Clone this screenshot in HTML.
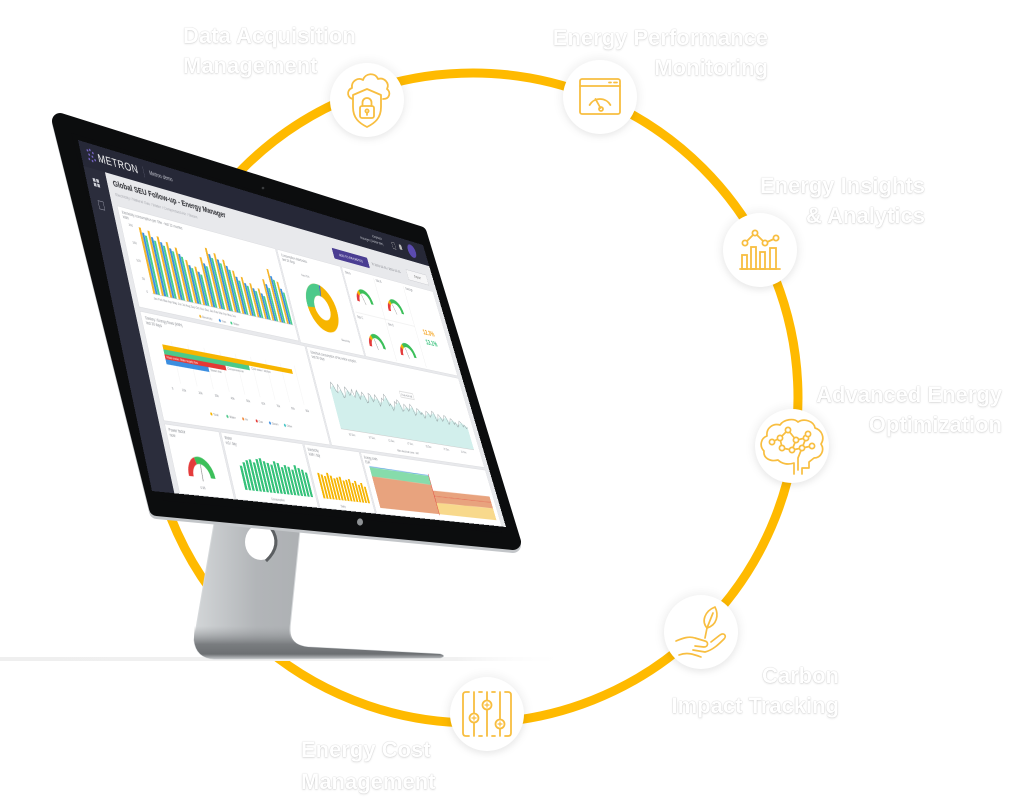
<!DOCTYPE html>
<html><head><meta charset="utf-8">
<style>
html,body{margin:0;padding:0;background:#fff;}
body{width:1024px;height:807px;position:relative;overflow:hidden;font-family:"Liberation Sans",sans-serif;}
.abs{position:absolute;left:0;top:0;}
.lbl{position:absolute;font:bold 22px/30px "Liberation Sans",sans-serif;color:#fff;white-space:nowrap;
 text-shadow:0 0 1px rgba(0,0,0,.28),0 1px 2px rgba(0,0,0,.10);}
.ic{position:absolute;width:74px;height:74px;border-radius:50%;background:#fff;
 box-shadow:0 0 9px 3px rgba(0,0,0,.055),0 3px 6px rgba(0,0,0,.04);}
.ic svg{position:absolute;left:0;top:0;}
#scr{position:absolute;left:0;top:0;width:1000px;height:560px;transform-origin:0 0;
 transform:matrix3d(0.45311,0.16762,0,0.00025558,0.108982,0.551946,0,-0.00015241,0,0,1,0,78,140,0,1);
 background:#e8e9ec;overflow:hidden;font-family:"Liberation Sans",sans-serif;}
#scr div{position:absolute;}
.pn{background:#fff;border:1px solid #dcdde0;box-sizing:border-box;}
.pn svg{position:absolute;left:0;top:0;}
.t{font-size:7px;fill:#8a8d93;}
</style></head><body>

<!-- ring -->
<svg class="abs" width="1024" height="807">
 <circle cx="473" cy="398" r="325" fill="none" stroke="#FFBA00" stroke-width="9"/>
 <defs>
  <linearGradient id="gl" x1="0" x2="1" y1="0" y2="0">
   <stop offset="0" stop-color="#efefef"/><stop offset="0.8" stop-color="#f1f1f1"/><stop offset="1" stop-color="#fff" stop-opacity="0"/>
  </linearGradient>
  <linearGradient id="st" x1="0" x2="1" y1="0" y2="0">
   <stop offset="0" stop-color="#d3d6d8"/><stop offset="0.25" stop-color="#b2b5b8"/><stop offset="0.6" stop-color="#a9acaf"/><stop offset="1" stop-color="#bcbfc2"/>
  </linearGradient>
  <linearGradient id="ft" x1="0" x2="0" y1="0" y2="1">
   <stop offset="0" stop-color="#9ea1a4" stop-opacity="0"/><stop offset="0.55" stop-color="#7a7d80"/><stop offset="0.85" stop-color="#6c6f72"/><stop offset="1" stop-color="#c2c5c8"/>
  </linearGradient>
 </defs>
 <!-- ground -->
 <rect x="0" y="657" width="570" height="4" fill="url(#gl)"/>
 <!-- stand -->
 <path d="M216,512 L301,520 L290,628 Q288,645 308,647 L440,654 Q447,656 440,658 L214,659 Q196,658 194,640 Z" fill="url(#st)" stroke="#d6d9db" stroke-width="1"/>
 <path d="M194,626 L291,626 Q288,645 308,647 L440,654 Q447,656 440,658 L214,659 Q196,658 194,640 Z" fill="url(#ft)"/>
 <ellipse cx="261" cy="542" rx="16" ry="18" fill="#fff"/>
 <path d="M271,528 Q283,545 266,561" fill="none" stroke="#5c5f62" stroke-width="3"/>
 <!-- bezel rim -->
 <polygon points="60,123 419,237 513,545 157,511" fill="#c3c6c9" stroke="#c3c6c9" stroke-width="16" stroke-linejoin="round"/>
 <!-- bezel -->
 <polygon points="60,121 419,234 513,542 157,508" fill="#0c0d0e" stroke="#0c0d0e" stroke-width="16" stroke-linejoin="round"/>
 <circle cx="263" cy="188" r="1.3" fill="#3a3c3e"/>
 <ellipse cx="360" cy="522" rx="3" ry="3.6" fill="#8e9194"/>
</svg>

<!-- screen -->
<div id="scr">
 <div style="left:0;top:0;width:1000px;height:45px;background:#262837;"></div>
 <div style="left:0;top:45px;width:50px;height:515px;background:#2b2d3c;"></div>
 <svg style="position:absolute;left:12px;top:8px" width="26" height="30"><g fill="#7d6ad0"><circle cx="6" cy="6" r="2"/><circle cx="12" cy="4" r="2"/><circle cx="18" cy="8" r="2"/><circle cx="8" cy="13" r="2"/><circle cx="15" cy="15" r="2"/><circle cx="6" cy="21" r="2"/><circle cx="13" cy="23" r="2"/><circle cx="20" cy="20" r="2"/></g></svg>
 <div style="left:40px;top:11px;font-size:21px;color:#fff;letter-spacing:1px;">METRON</div>
 <div style="left:150px;top:13px;width:1px;height:20px;background:#55586a;"></div>
 <div style="left:165px;top:17px;font-size:10px;color:#c5c7d0;">Metron demo</div>
 <div style="left:770px;top:9px;font-size:8px;color:#c5c7d0;line-height:11px;text-align:right;">Elephant<br>Manager (Global site)</div>
 <div style="left:880px;top:15px;width:9px;height:12px;border:1px solid #aaa;"></div>
 <div style="left:905px;top:15px;width:9px;height:11px;background:#bbb;border-radius:4px 4px 1px 1px;"></div>
 <div style="left:935px;top:8px;width:28px;height:28px;border-radius:50%;background:#5b4bb0;"></div>
 <div style="left:16px;top:62px;width:6px;height:6px;background:#cfd1d8;box-shadow:8px 0 #cfd1d8,0 8px #cfd1d8,8px 8px #cfd1d8;"></div>
 <div style="left:17px;top:100px;width:11px;height:13px;border:1.5px solid #9a9cab;"></div>

 <div style="left:64px;top:53px;font-size:15px;font-weight:bold;color:#2d2e33;">Global SEU Follow-up - Energy Manager</div>
 <div style="left:64px;top:76px;font-size:8px;color:#a6a8ae;">Electricity / Natural Gas / Water / Compressed Air / Steam</div>
 <div style="left:660px;top:66px;width:114px;height:21px;background:#4a3d92;border-radius:2px;color:#fff;font-size:8px;line-height:21px;text-align:center;">ADD TO FAVORITES</div>
 <div style="left:785px;top:72px;font-size:8px;color:#7a7c83;">&#8635; 2019-12-01 / 2019-12-31</div>
 <div style="left:905px;top:67px;width:70px;height:20px;border:1px solid #c9cacf;background:#f6f6f7;font-size:8px;color:#666;line-height:20px;text-align:center;">Export</div>

 <!-- P1 bars -->
 <div class="pn" style="left:62px;top:100px;width:414px;height:170px;">
  <svg width="414" height="170">
   <text x="8" y="11" class="t">Electricity consumption per Site - last 12 months</text>
   <text x="8" y="19" class="t">kWh</text>
   <g class="t" style="font-size:6px"><text x="18" y="30">200</text><text x="18" y="60">150</text><text x="18" y="90">100</text><text x="22" y="120">50</text><text x="26" y="141">0</text></g>
   <g fill="#f5b52a"><rect x="42" y="28" width="5" height="112"/><rect x="62.5" y="30" width="5" height="110"/><rect x="83" y="36" width="5" height="104"/><rect x="103.5" y="42" width="5" height="98"/><rect x="124" y="48" width="5" height="92"/><rect x="144.5" y="66" width="5" height="74"/><rect x="165" y="74" width="5" height="66"/><rect x="185.5" y="54" width="5" height="86"/><rect x="206" y="34" width="5" height="106"/><rect x="226.5" y="40" width="5" height="100"/><rect x="247" y="48" width="5" height="92"/><rect x="267.5" y="64" width="5" height="76"/><rect x="288" y="72" width="5" height="68"/><rect x="308.5" y="80" width="5" height="60"/><rect x="329" y="86" width="5" height="54"/><rect x="349.5" y="66" width="5" height="74"/><rect x="370" y="44" width="5" height="96"/><rect x="390.5" y="64" width="5" height="76"/></g>
   <g fill="#3b8ee0"><rect x="47.5" y="36" width="5" height="104"/><rect x="68" y="40" width="5" height="100"/><rect x="88.5" y="45" width="5" height="95"/><rect x="109" y="52" width="5" height="88"/><rect x="129.5" y="58" width="5" height="82"/><rect x="150" y="74" width="5" height="66"/><rect x="170.5" y="82" width="5" height="58"/><rect x="191" y="64" width="5" height="76"/><rect x="211.5" y="44" width="5" height="96"/><rect x="232" y="50" width="5" height="90"/><rect x="252.5" y="58" width="5" height="82"/><rect x="273" y="74" width="5" height="66"/><rect x="293.5" y="82" width="5" height="58"/><rect x="314" y="88" width="5" height="52"/><rect x="334.5" y="94" width="5" height="46"/><rect x="355" y="74" width="5" height="66"/><rect x="375.5" y="56" width="5" height="84"/><rect x="396" y="76" width="5" height="64"/></g>
   <g fill="#48cf8c"><rect x="53" y="40" width="5" height="100"/><rect x="73.5" y="45" width="5" height="95"/><rect x="94" y="50" width="5" height="90"/><rect x="114.5" y="56" width="5" height="84"/><rect x="135" y="62" width="5" height="78"/><rect x="155.5" y="78" width="5" height="62"/><rect x="176" y="86" width="5" height="54"/><rect x="196.5" y="68" width="5" height="72"/><rect x="217" y="50" width="5" height="90"/><rect x="237.5" y="56" width="5" height="84"/><rect x="258" y="64" width="5" height="76"/><rect x="278.5" y="80" width="5" height="60"/><rect x="299" y="86" width="5" height="54"/><rect x="319.5" y="92" width="5" height="48"/><rect x="340" y="98" width="5" height="42"/><rect x="360.5" y="80" width="5" height="60"/><rect x="381" y="62" width="5" height="78"/><rect x="401.5" y="82" width="5" height="58"/></g>
   <line x1="40" y1="140.5" x2="408" y2="140.5" stroke="#ccc" stroke-width="1"/>
   <g class="t" style="font-size:6px"><text x="40" y="150">Jan  Feb  Mar  Apr  May  Jun  Jul  Aug  Sep  Oct  Nov  Dec  Jan  Feb  Mar  Apr  May  Jun</text></g>
   <circle cx="150" cy="162" r="2.5" fill="#f5b52a"/><text x="155" y="164" class="t" style="font-size:6px">Electricity</text>
   <circle cx="200" cy="162" r="2.5" fill="#3b8ee0"/><text x="205" y="164" class="t" style="font-size:6px">Gas</text>
   <circle cx="230" cy="162" r="2.5" fill="#48cf8c"/><text x="235" y="164" class="t" style="font-size:6px">Water</text>
  </svg>
 </div>

 <!-- P2 donut -->
 <div class="pn" style="left:480px;top:100px;width:192px;height:172px;">
  <svg width="192" height="172">
   <text x="8" y="11" class="t">Consumption distribution</text>
   <text x="8" y="19" class="t">last 30 days</text>
   <circle cx="95" cy="94" r="34" fill="none" stroke="#f7b500" stroke-width="22"/>
   <circle cx="95" cy="94" r="34" fill="none" stroke="#4cc98a" stroke-width="22" stroke-dasharray="62 152" transform="rotate(175 95 94)"/>
   <circle cx="95" cy="94" r="34" fill="none" stroke="#3b6fd8" stroke-width="22" stroke-dasharray="3 211" transform="rotate(280 95 94)"/>
   <text x="55" y="40" class="t" style="font-size:6px">Gas 21%</text>
   <text x="130" y="150" class="t" style="font-size:6px">Electricity</text>
  </svg>
 </div>

 <!-- P3 gauges -->
 <div class="pn" style="left:676px;top:100px;width:309px;height:172px;">
  <svg width="309" height="172">
   <line x1="100" y1="5" x2="100" y2="167" stroke="#e6e6e6"/><line x1="200" y1="5" x2="200" y2="167" stroke="#e6e6e6"/><line x1="5" y1="86" x2="200" y2="86" stroke="#e6e6e6"/>
   <text x="6" y="11" class="t">Site A</text><text x="106" y="11" class="t">Site B</text><text x="6" y="97" class="t">Site C</text><text x="106" y="97" class="t">Site D</text><text x="206" y="11" class="t">Savings</text>
   <g transform="translate(48,62)" fill="none" stroke-width="8"><path d="M-22,0 A22,22 0 0 1 -16.9,-14.1" stroke="#e43b3b"/><path d="M-16.9,-14.1 A22,22 0 0 1 -11,-19.1" stroke="#f5b400"/><path d="M-11,-19.1 A22,22 0 0 1 22,0" stroke="#3cbf5a"/><line x1="0" y1="4" x2="-7" y2="-15" stroke="#999" stroke-width="1.5"/></g>
   <g transform="translate(148,66)" fill="none" stroke-width="8"><path d="M-22,0 A22,22 0 0 1 -16.9,-14.1" stroke="#e43b3b"/><path d="M-16.9,-14.1 A22,22 0 0 1 -11,-19.1" stroke="#f5b400"/><path d="M-11,-19.1 A22,22 0 0 1 22,0" stroke="#3cbf5a"/><line x1="0" y1="4" x2="-7" y2="-15" stroke="#999" stroke-width="1.5"/></g>
   <g transform="translate(48,148)" fill="none" stroke-width="8"><path d="M-22,0 A22,22 0 0 1 -16.9,-14.1" stroke="#e43b3b"/><path d="M-16.9,-14.1 A22,22 0 0 1 -11,-19.1" stroke="#f5b400"/><path d="M-11,-19.1 A22,22 0 0 1 22,0" stroke="#3cbf5a"/><line x1="0" y1="4" x2="-5" y2="-16" stroke="#999" stroke-width="1.5"/></g>
   <g transform="translate(148,152)" fill="none" stroke-width="8"><path d="M-22,0 A22,22 0 0 1 -16.9,-14.1" stroke="#e43b3b"/><path d="M-16.9,-14.1 A22,22 0 0 1 -11,-19.1" stroke="#f5b400"/><path d="M-11,-19.1 A22,22 0 0 1 22,0" stroke="#3cbf5a"/><line x1="0" y1="4" x2="-5" y2="-16" stroke="#999" stroke-width="1.5"/></g>
   <text x="225" y="98" style="font-size:14px;font-weight:bold;fill:#f5a623">12.3%</text>
   <text x="225" y="118" style="font-size:14px;font-weight:bold;fill:#35c07a">13.1%</text>
  </svg>
 </div>

 <!-- P4 horizontal bars -->
 <div class="pn" style="left:62px;top:276px;width:428px;height:174px;">
  <svg width="428" height="174">
   <text x="8" y="11" class="t">Sankey / Energy flows (kWh)</text>
   <text x="8" y="19" class="t">last 30 days</text>
   <g stroke="#efefef"><line x1="60" y1="40" x2="60" y2="108"/><line x1="100" y1="40" x2="100" y2="108"/><line x1="140" y1="40" x2="140" y2="108"/><line x1="180" y1="40" x2="180" y2="108"/><line x1="220" y1="40" x2="220" y2="108"/><line x1="260" y1="40" x2="260" y2="108"/><line x1="300" y1="40" x2="300" y2="108"/><line x1="340" y1="40" x2="340" y2="108"/><line x1="380" y1="40" x2="380" y2="108"/></g>
   <rect x="36" y="48" width="334" height="8" fill="#f7b500"/>
   <rect x="36" y="56" width="214" height="8" fill="#4cc98a"/>
   <rect x="36" y="64" width="150" height="8" fill="#e53935"/>
   <rect x="36" y="72" width="104" height="8" fill="#3b8ee0"/>
   <text x="40" y="70" style="font-size:6px;fill:#fff">Flow meter: Main supply line</text>
   <text x="255" y="62" class="t" style="font-size:6px">Cold water / kitchen</text>
   <text x="190" y="70" class="t" style="font-size:6px">Compressed air</text>
   <text x="144" y="78" class="t" style="font-size:6px">Steam line</text>
   <g class="t" style="font-size:6px"><text x="36" y="120">0</text><text x="60" y="120">10k</text><text x="100" y="120">20k</text><text x="140" y="120">30k</text><text x="180" y="120">40k</text><text x="220" y="120">50k</text><text x="260" y="120">60k</text><text x="300" y="120">70k</text><text x="340" y="120">80k</text><text x="380" y="120">90k</text></g>
   <g style="font-size:6px" class="t"><circle cx="120" cy="150" r="2.5" fill="#f7b500"/><text x="125" y="152">Total</text><circle cx="160" cy="150" r="2.5" fill="#4cc98a"/><text x="165" y="152">Water</text><circle cx="200" cy="150" r="2.5" fill="#f08a3c"/><text x="205" y="152">Air</text><circle cx="235" cy="150" r="2.5" fill="#e53935"/><text x="240" y="152">Gas</text><circle cx="270" cy="150" r="2.5" fill="#3b8ee0"/><text x="275" y="152">Steam</text><circle cx="310" cy="150" r="2.5" fill="#35c0c0"/><text x="315" y="152">Other</text></g>
  </svg>
 </div>

 <!-- P5 line chart -->
 <div class="pn" style="left:494px;top:276px;width:491px;height:174px;">
  <svg width="491" height="174">
   <text x="8" y="11" class="t">Electrical consumption of the entire complex</text>
   <text x="8" y="19" class="t">last 30 days</text>
   <polygon fill="#d2efec" points="40,70 50,62 60,75 70,68 80,80 90,66 100,72 110,78 120,64 130,74 140,70 150,82 160,68 170,76 180,72 190,80 200,74 210,66 220,78 230,84 240,76 250,72 260,86 270,78 280,82 290,76 300,88 310,80 320,84 330,90 340,82 350,86 360,80 370,92 380,86 390,90 400,84 410,94 420,88 430,92 440,96 450,90 460,94 470,98 470,140 40,140"/>
   <polyline fill="none" stroke="#8f9a9c" stroke-width="1.2" points="40,70 45,58 50,62 55,72 60,75 65,60 70,68 75,82 80,80 85,62 90,66 95,76 100,72 105,64 110,78 115,70 120,64 125,80 130,74 135,66 140,70 145,84 150,82 155,66 160,68 165,80 170,76 175,66 180,72 185,86 190,80 195,70 200,74 205,62 210,66 215,82 220,78 225,90 230,84 235,72 240,76 245,68 250,72 255,88 260,86 265,74 270,78 275,86 280,82 285,72 290,76 295,92 300,88 305,78 310,80 315,88 320,84 325,94 330,90 335,80 340,82 345,90 350,86 355,78 360,80 365,96 370,92 375,82 380,86 385,94 390,90 395,82 400,84 405,98 410,94 415,86 420,88 425,96 430,92 435,100 440,96 445,88 450,90 455,98 460,94 465,100 470,98"/>
   <rect x="262" y="50" width="44" height="11" fill="#fff" stroke="#999" stroke-width="0.6"/>
   <text x="266" y="58" class="t" style="font-size:6px">Peak 412 kW</text>
   <line x1="40" y1="140.5" x2="470" y2="140.5" stroke="#ccc"/>
   <g class="t" style="font-size:6px"><text x="60" y="150">02 Dec</text><text x="120" y="150">07 Dec</text><text x="180" y="150">12 Dec</text><text x="240" y="150">17 Dec</text><text x="300" y="150">22 Dec</text><text x="360" y="150">27 Dec</text><text x="420" y="150">31 Dec</text></g>
   <text x="200" y="166" class="t" style="font-size:6px">Main electrical meter - kW</text>
  </svg>
 </div>

 <!-- P6 gauge -->
 <div class="pn" style="left:62px;top:454px;width:130px;height:106px;">
  <svg width="130" height="106">
   <text x="6" y="10" class="t">Power factor</text><text x="6" y="18" class="t">now</text>
   <g transform="translate(62,76)" fill="none" stroke-width="11"><path d="M-26,0 A26,26 0 0 1 -8,-24.7" stroke="#e43b3b"/><path d="M-8,-24.7 A26,26 0 0 1 26,0" stroke="#3cbf5a"/><line x1="0" y1="6" x2="2" y2="-20" stroke="#888" stroke-width="1.5"/></g>
   <text x="52" y="94" class="t" style="font-size:6px">0.96</text>
  </svg>
 </div>

 <!-- P7 green bars -->
 <div class="pn" style="left:196px;top:454px;width:214px;height:106px;">
  <svg width="214" height="106">
   <text x="6" y="10" class="t">Water</text><text x="6" y="18" class="t">m3 / day</text>
   <g fill="#35c27a"><rect x="28" y="50" width="6" height="38"/><rect x="37" y="44" width="6" height="44"/><rect x="46" y="40" width="6" height="48"/><rect x="55" y="38" width="6" height="50"/><rect x="64" y="42" width="6" height="46"/><rect x="73" y="36" width="6" height="52"/><rect x="82" y="34" width="6" height="54"/><rect x="91" y="38" width="6" height="50"/><rect x="100" y="40" width="6" height="48"/><rect x="109" y="42" width="6" height="46"/><rect x="118" y="36" width="6" height="52"/><rect x="127" y="38" width="6" height="50"/><rect x="136" y="44" width="6" height="44"/><rect x="145" y="40" width="6" height="48"/><rect x="154" y="42" width="6" height="46"/><rect x="163" y="46" width="6" height="42"/><rect x="172" y="38" width="6" height="50"/><rect x="181" y="42" width="6" height="46"/><rect x="190" y="44" width="6" height="44"/><rect x="199" y="48" width="6" height="40"/></g>
   <text x="90" y="100" class="t" style="font-size:6px">Consumption</text>
  </svg>
 </div>

 <!-- P8 yellow bars -->
 <div class="pn" style="left:414px;top:454px;width:158px;height:106px;">
  <svg width="158" height="106">
   <text x="6" y="10" class="t">Electricity</text><text x="6" y="18" class="t">kWh / day</text>
   <g fill="#f6b400"><rect x="16" y="46" width="5.5" height="42"/><rect x="24.5" y="48" width="5.5" height="40"/><rect x="33" y="50" width="5.5" height="38"/><rect x="41.5" y="44" width="5.5" height="44"/><rect x="50" y="48" width="5.5" height="40"/><rect x="58.5" y="52" width="5.5" height="36"/><rect x="67" y="50" width="5.5" height="38"/><rect x="75.5" y="48" width="5.5" height="40"/><rect x="84" y="54" width="5.5" height="34"/><rect x="92.5" y="52" width="5.5" height="36"/><rect x="101" y="50" width="5.5" height="38"/><rect x="109.5" y="56" width="5.5" height="32"/><rect x="118" y="52" width="5.5" height="36"/><rect x="126.5" y="58" width="5.5" height="30"/><rect x="135" y="54" width="5.5" height="34"/><rect x="143.5" y="60" width="5.5" height="28"/></g>
   <text x="60" y="100" class="t" style="font-size:6px">Daily</text>
  </svg>
 </div>

 <!-- P9 area -->
 <div class="pn" style="left:576px;top:454px;width:409px;height:106px;">
  <svg width="409" height="106">
   <text x="6" y="10" class="t">Energy costs</text><text x="6" y="18" class="t">EUR</text>
   <polygon points="15,24 200,26 200,42 15,40" fill="#86dcab"/>
   <polygon points="15,40 200,42 200,94 15,94" fill="#e8a37e"/>
   <polygon points="200,52 395,50 395,72 200,74" fill="#e8a37e"/>
   <polygon points="200,74 395,72 395,94 200,94" fill="#f8d98c"/>
   <line x1="200" y1="22" x2="200" y2="96" stroke="#e02a2a" stroke-width="1.2"/>
   <line x1="200" y1="62" x2="395" y2="61" stroke="#e02a2a" stroke-width="0.8" stroke-dasharray="2 2"/>
   <line x1="15" y1="23" x2="200" y2="25" stroke="#3b8ee0" stroke-width="1"/>
  </svg>
 </div>
</div>

<!-- icon circles -->
<div class="ic" style="left:330px;top:63px;">
 <svg width="74" height="74"><g transform="translate(14,9)" fill="none" stroke="#F8BE40" stroke-width="1.8" stroke-linejoin="round" stroke-linecap="round">
  <path d="M10,27 C3,27 2,18 8,16 C7,9 14,5 19,8 C21,1 31,0 34,7 C40,5 46,11 43,17 C47,20 46,27 39,27"/>
  <path d="M23,17 L37,23 L37,35 C37,46 31,51 23,55 C15,51 9,46 9,35 L9,23 Z" fill="#fff"/>
  <rect x="16" y="34" width="14" height="12" rx="2"/>
  <path d="M18.5,34 V30.5 a4.5,4.5 0 0 1 9,0 V34"/>
  <circle cx="23" cy="39" r="1.6"/><path d="M23,40.6 V43"/>
 </g></svg>
</div>
<div class="ic" style="left:563px;top:60px;">
 <svg width="74" height="74"><g transform="translate(16,18)" fill="none" stroke="#F8BE40" stroke-width="1.8" stroke-linecap="round">
  <rect x="1" y="1" width="40" height="35" rx="2"/>
  <path d="M1,8 H41 M30,4.5 H32 M35,4.5 H38"/>
  <path d="M10.6,27 A12,12 0 0 1 31.4,27"/>
  <path d="M21.5,30 L16.5,21"/><circle cx="22" cy="31" r="2"/>
 </g></svg>
</div>
<div class="ic" style="left:723px;top:213px;">
 <svg width="74" height="74"><g transform="translate(17,17)" fill="none" stroke="#F8BE40" stroke-width="1.8" stroke-linecap="round">
  <path d="M0,39 H40"/>
  <rect x="2" y="25" width="5" height="14"/><rect x="11" y="17" width="5" height="22"/><rect x="20" y="22" width="5" height="17"/><rect x="30" y="18" width="6" height="21"/>
  <path d="M5,13 L15,3 L25,13 L36,8"/>
  <circle cx="5" cy="13" r="2.6" fill="#fff"/><circle cx="15" cy="3" r="2.6" fill="#fff"/><circle cx="25" cy="13" r="2.6" fill="#fff"/><circle cx="36" cy="8" r="2.6" fill="#fff"/>
 </g></svg>
</div>
<div class="ic" style="left:755px;top:409px;">
 <svg width="74" height="74"><g transform="translate(5,9)" fill="none" stroke="#F8BE40" stroke-width="1.7" stroke-linecap="round" stroke-linejoin="round">
  <path d="M34,56 L34,45 C28,47 22,46 18,42 C10,44 3,40 4,33 C-1,28 1,20 7,18 C6,10 13,5 20,7 C24,1 34,0 38,4 C44,0 54,3 55,10 C62,12 65,20 61,26 C65,32 61,40 54,40 L49,44 L49,50 L42,50 L42,56"/>
  <path d="M12,24 L20,20 L28,12 M20,20 L22,30 L32,32 L42,30 L52,28 M28,12 L36,22 L46,20 L48,16 M36,22 L32,32 M42,30 L38,40 L38,52 M46,20 L42,30"/>
  <g fill="#fff"><circle cx="12" cy="24" r="2.6"/><circle cx="20" cy="20" r="2.6"/><circle cx="28" cy="12" r="2.6"/><circle cx="36" cy="22" r="2.6"/><circle cx="46" cy="20" r="2.6"/><circle cx="48" cy="16" r="2.6"/><circle cx="52" cy="28" r="2.6"/><circle cx="22" cy="30" r="2.6"/><circle cx="32" cy="32" r="2.6"/><circle cx="42" cy="30" r="2.6"/></g>
 </g></svg>
</div>
<div class="ic" style="left:664px;top:595px;">
 <svg width="74" height="74"><g transform="translate(11,10)" fill="none" stroke="#F8BE40" stroke-width="1.7" stroke-linecap="round" stroke-linejoin="round">
  <path d="M40,2 C30,6 26,16 32,23 C42,20 44,10 40,2 Z"/>
  <path d="M32,23 L38,8 M32,23 L30,33"/>
  <path d="M1,36 C8,33 14,31 20,33 L30,36 C34,37 33,42 29,42 L20,41"/>
  <path d="M18,45 L30,47 C38,45 44,39 49,34 C52,31 49,27 45,30 L36,37"/>
  <path d="M4,50 C12,47 18,49 26,52"/>
 </g></svg>
</div>
<div class="ic" style="left:450px;top:677px;">
 <svg width="74" height="74"><g transform="translate(12,14)" fill="none" stroke="#F8BE40" stroke-width="1.8" stroke-linecap="round">
  <path d="M7,1 H4 Q1,1 1,4 V42 Q1,45 4,45 H7 M43,1 H46 Q49,1 49,4 V42 Q49,45 46,45 H43 M17,1 H20 M30,1 H33 M17,45 H20 M30,45 H33"/>
  <path d="M12,1 V45 M25,1 V45 M38,1 V45"/>
  <g fill="#fff"><circle cx="12" cy="27" r="4.5"/><circle cx="25" cy="14" r="4.5"/><circle cx="38" cy="33" r="4.5"/></g>
  <path d="M10,27 H14 M12,25 V29 M23,14 H27 M25,12 V16 M36,33 H40 M38,31 V35" stroke-width="1.2"/>
 </g></svg>
</div>

<!-- labels -->
<div class="lbl" style="left:183px;top:21px;">Data Acquisition<br>Management</div>
<div class="lbl" style="right:256px;top:23px;text-align:right;">Energy Performance<br>Monitoring</div>
<div class="lbl" style="right:99px;top:171px;text-align:right;">Energy Insights<br>&amp; Analytics</div>
<div class="lbl" style="right:22px;top:380px;text-align:right;">Advanced Energy<br>Optimization</div>
<div class="lbl" style="right:185px;top:661px;text-align:right;">Carbon<br>Impact Tracking</div>
<div class="lbl" style="left:301px;top:734px;line-height:32px;">Energy Cost<br>Management</div>

</body></html>
